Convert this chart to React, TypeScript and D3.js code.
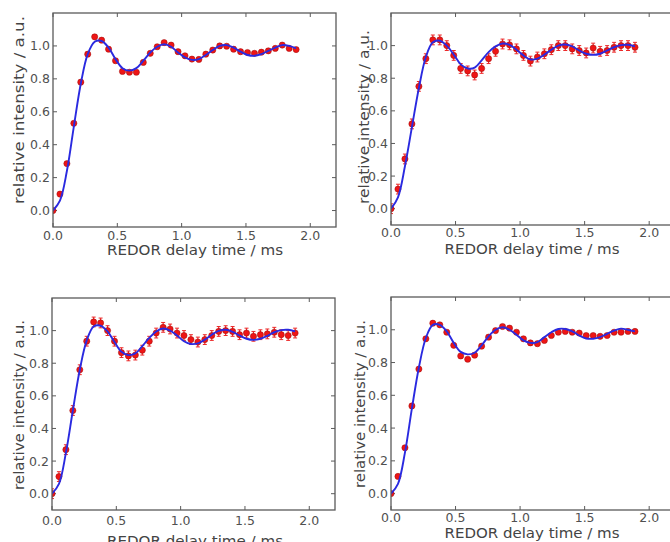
import React from "react";
import * as d3 from "d3";

// REDOR delay times (ms)
const delayTimes = [0, 0.054, 0.108, 0.162, 0.216, 0.27, 0.324, 0.378, 0.432, 0.486, 0.54, 0.594, 0.648, 0.702, 0.756, 0.81, 0.864, 0.918, 0.972, 1.026, 1.08, 1.134, 1.188, 1.242, 1.296, 1.35, 1.404, 1.458, 1.512, 1.566, 1.62, 1.674, 1.728, 1.782, 1.836, 1.89];

// experimental intensities
const exp1 = [0, 0.10, 0.285, 0.53, 0.78, 0.95, 1.055, 1.035, 0.98, 0.91, 0.845, 0.84, 0.84, 0.90, 0.955, 0.995, 1.02, 1.005, 0.965, 0.94, 0.92, 0.918, 0.95, 0.975, 1.0, 0.998, 0.98, 0.965, 0.96, 0.955, 0.962, 0.97, 0.985, 1.005, 0.985, 0.978];
const exp2 = [0, 0.12, 0.305, 0.52, 0.75, 0.92, 1.035, 1.035, 1.0, 0.94, 0.86, 0.845, 0.82, 0.86, 0.92, 0.965, 1.01, 1.005, 0.98, 0.94, 0.905, 0.93, 0.95, 0.975, 1.0, 1.0, 0.98, 0.97, 0.955, 0.985, 0.965, 0.97, 0.99, 1.0, 1.0, 0.99];
const exp3 = [0, 0.105, 0.27, 0.51, 0.76, 0.935, 1.053, 1.047, 1.0, 0.935, 0.865, 0.845, 0.85, 0.88, 0.935, 0.985, 1.02, 1.01, 0.985, 0.97, 0.945, 0.93, 0.945, 0.97, 0.995, 1.0, 0.995, 0.975, 0.985, 0.965, 0.975, 0.98, 0.99, 0.975, 0.97, 0.985];
const exp4 = [0, 0.105, 0.28, 0.535, 0.76, 0.945, 1.04, 1.03, 0.985, 0.905, 0.84, 0.82, 0.845, 0.9, 0.955, 0.995, 1.02, 1.01, 0.985, 0.945, 0.92, 0.915, 0.935, 0.965, 0.985, 0.99, 0.985, 0.98, 0.965, 0.965, 0.96, 0.965, 0.985, 0.985, 0.99, 0.99];

// error bar half-widths
const err1 = 0.012;
const err2 = 0.03;
const err3 = 0.03;
const err4 = 0.012;

// simulated fit curves
const fit1 = [0, 0.06, 0.24, 0.51, 0.77, 0.95, 1.025, 1.03, 0.99, 0.92, 0.865, 0.85, 0.865, 0.91, 0.96, 0.995, 1.01, 0.995, 0.96, 0.93, 0.915, 0.92, 0.945, 0.975, 1.0, 1.005, 0.99, 0.965, 0.945, 0.94, 0.95, 0.97, 0.99, 1.005, 1.0, 0.985];
const fit2 = [0, 0.07, 0.26, 0.5, 0.74, 0.93, 1.02, 1.03, 1.0, 0.945, 0.885, 0.86, 0.865, 0.91, 0.96, 0.995, 1.013, 1.005, 0.975, 0.94, 0.915, 0.92, 0.945, 0.975, 1.0, 1.007, 0.995, 0.97, 0.95, 0.943, 0.95, 0.97, 0.99, 1.003, 1.005, 0.995];
const fit3 = [0, 0.06, 0.25, 0.51, 0.76, 0.94, 1.025, 1.03, 0.995, 0.93, 0.87, 0.85, 0.86, 0.905, 0.955, 0.995, 1.013, 1.0, 0.97, 0.935, 0.918, 0.922, 0.945, 0.975, 0.998, 1.005, 0.993, 0.97, 0.95, 0.943, 0.95, 0.968, 0.99, 1.003, 1.005, 0.995];
const fit4 = [0, 0.06, 0.25, 0.52, 0.77, 0.95, 1.03, 1.03, 0.99, 0.92, 0.865, 0.85, 0.86, 0.905, 0.96, 1.0, 1.015, 1.0, 0.97, 0.935, 0.92, 0.925, 0.955, 0.985, 1.005, 1.005, 0.99, 0.965, 0.947, 0.945, 0.955, 0.975, 0.995, 1.007, 1.0, 0.99];

const xTicks = [0, 0.5, 1.0, 1.5, 2.0];
const yTicks = [0, 0.2, 0.4, 0.6, 0.8, 1.0];
const xDomain = [0, 2.2];
const yDomain = [-0.1, 1.2];
const xLabel = "REDOR delay time / ms";
const yLabel = "relative intensity / a.u.";

const FONT = "DejaVu Sans, Verdana, sans-serif";
const TEXT = "#505050";
const FRAME = "#5a5a5a";

type PanelCfg = {
  left: number; top: number; right: number; bottom: number;
  exp: number[]; fit: number[]; err: number;
  xTickDy: number; xLabelX: number; xLabelY: number; xLabelLen: number;
  yLabelX: number; yLabelCY: number; yLabelLen: number;
};

const panels: PanelCfg[] = [
  { left: 53, top: 13, right: 336, bottom: 227, exp: exp1, fit: fit1, err: err1, xTickDy: 13, xLabelX: 195, xLabelY: 255, xLabelLen: 176, yLabelX: 24, yLabelCY: 110, yLabelLen: 188 },
  { left: 391, top: 13, right: 675, bottom: 225, exp: exp2, fit: fit2, err: err2, xTickDy: 12, xLabelX: 532, xLabelY: 254, xLabelLen: 175, yLabelX: 369, yLabelCY: 117, yLabelLen: 174 },
  { left: 52, top: 298, right: 335, bottom: 510, exp: exp3, fit: fit3, err: err3, xTickDy: 15, xLabelX: 195, xLabelY: 546, xLabelLen: 176, yLabelX: 24, yLabelCY: 405, yLabelLen: 170 },
  { left: 391, top: 297, right: 675, bottom: 510, exp: exp4, fit: fit4, err: err4, xTickDy: 12, xLabelX: 532, xLabelY: 538, xLabelLen: 175, yLabelX: 365, yLabelCY: 404, yLabelLen: 168 },
];

function Panel({ cfg, idx }: { cfg: PanelCfg; idx: number }) {
  const x = d3.scaleLinear().domain(xDomain).range([cfg.left, cfg.right]);
  const y = d3.scaleLinear().domain(yDomain).range([cfg.bottom, cfg.top]);
  const line = d3
    .line<number>()
    .x((_, i) => x(delayTimes[i]))
    .y((d) => y(d))
    .curve(d3.curveCatmullRom.alpha(0.5));
  const tl = 4;
  const clipId = `clip${idx}`;
  return (
    <g>
      <defs>
        <clipPath id={clipId}>
          <rect x={cfg.left} y={cfg.top} width={cfg.right - cfg.left} height={cfg.bottom - cfg.top} />
        </clipPath>
      </defs>
      {xTicks.map((t) => (
        <g key={"xt" + t}>
          <line x1={x(t)} x2={x(t)} y1={cfg.bottom} y2={cfg.bottom - tl} stroke={FRAME} strokeWidth={1} />
          <line x1={x(t)} x2={x(t)} y1={cfg.top} y2={cfg.top + tl} stroke={FRAME} strokeWidth={1} />
          <text x={x(t)} y={cfg.bottom + cfg.xTickDy} textAnchor="middle" fontFamily={FONT} fontSize={12.5} fill={TEXT}>
            {t.toFixed(1)}
          </text>
        </g>
      ))}
      {yTicks.map((t) => (
        <g key={"yt" + t}>
          <line x1={cfg.left} x2={cfg.left + tl} y1={y(t)} y2={y(t)} stroke={FRAME} strokeWidth={1} />
          <line x1={cfg.right} x2={cfg.right - tl} y1={y(t)} y2={y(t)} stroke={FRAME} strokeWidth={1} />
          <text x={cfg.left - 3} y={y(t)} dy="0.36em" textAnchor="end" fontFamily={FONT} fontSize={12.5} fill={TEXT}>
            {t.toFixed(1)}
          </text>
        </g>
      ))}
      <g clipPath={`url(#${clipId})`}>
        {cfg.exp.map((v, i) => (
          <g key={"e" + i}>
            <line x1={x(delayTimes[i])} x2={x(delayTimes[i])} y1={y(v - cfg.err)} y2={y(v + cfg.err)} stroke="#ec2a2a" strokeWidth={1.2} />
            <line x1={x(delayTimes[i]) - 2} x2={x(delayTimes[i]) + 2} y1={y(v - cfg.err)} y2={y(v - cfg.err)} stroke="#ec2a2a" strokeWidth={1} />
            <line x1={x(delayTimes[i]) - 2} x2={x(delayTimes[i]) + 2} y1={y(v + cfg.err)} y2={y(v + cfg.err)} stroke="#ec2a2a" strokeWidth={1} />
          </g>
        ))}
        {cfg.exp.map((v, i) => (
          <circle key={"p" + i} cx={x(delayTimes[i])} cy={y(v)} r={3.1} fill="#ee1515" stroke="#9a0c0c" strokeWidth={0.5} />
        ))}
        <path d={line(cfg.fit) || ""} fill="none" stroke="#2a2ae0" strokeWidth={1.9} />
      </g>
      <rect x={cfg.left} y={cfg.top} width={cfg.right - cfg.left} height={cfg.bottom - cfg.top} fill="none" stroke={FRAME} strokeWidth={1.3} />
      <text
        x={cfg.xLabelX}
        y={cfg.xLabelY}
        textAnchor="middle"
        fontFamily={FONT}
        fontSize={14.5}
        fill="#444"
        textLength={cfg.xLabelLen}
        lengthAdjust="spacingAndGlyphs"
      >
        {xLabel}
      </text>
      <text
        transform={`translate(${cfg.yLabelX},${cfg.yLabelCY}) rotate(-90)`}
        textAnchor="middle"
        fontFamily={FONT}
        fontSize={14.5}
        fill="#444"
        textLength={cfg.yLabelLen}
        lengthAdjust="spacingAndGlyphs"
      >
        {yLabel}
      </text>
    </g>
  );
}

export default function App() {
  return (
    <svg
      width={670}
      height={542}
      style={{ position: "absolute", left: 0, top: 0, background: "#fff" }}
    >
      <rect x={0} y={0} width={670} height={542} fill="#fff" />
      {panels.map((p, i) => (
        <Panel key={i} cfg={p} idx={i} />
      ))}
    </svg>
  );
}
